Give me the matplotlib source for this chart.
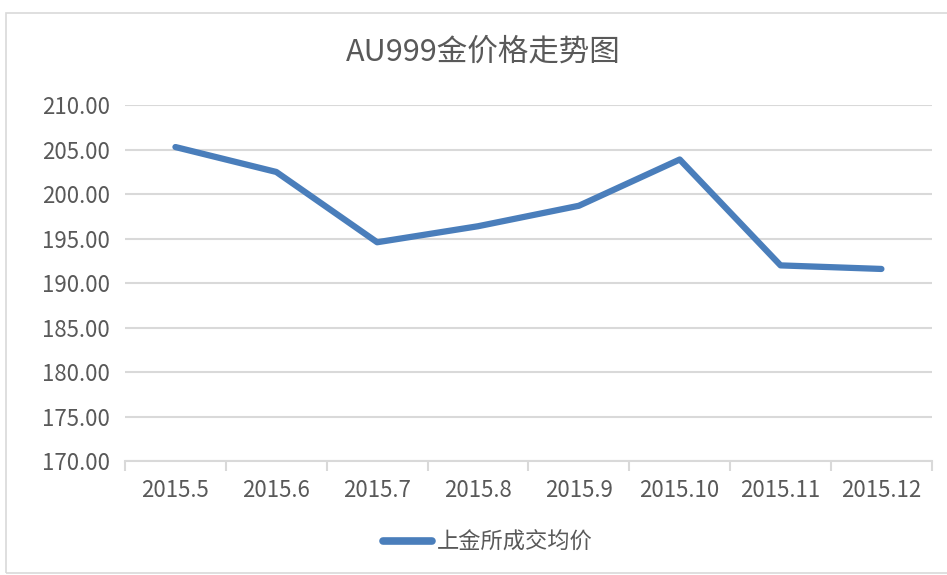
import matplotlib
matplotlib.use("Agg")
import matplotlib.pyplot as plt
from matplotlib.patches import Rectangle

plt.rcParams["font.family"] = ["Noto Sans CJK SC", "DejaVu Sans"]

months = ["2015.5", "2015.6", "2015.7", "2015.8", "2015.9", "2015.10", "2015.11", "2015.12"]
avg_price = [205.3, 202.5, 194.6, 196.4, 198.7, 203.9, 192.0, 191.6]
y_ticks = [170, 175, 180, 185, 190, 195, 200, 205, 210]

BLUE, GRID, TXT = "#4a7ebb", "#d9d9d9", "#595959"

fig = plt.figure(figsize=(9.47, 5.75), dpi=100)
fig.patches.append(Rectangle((0.006, 0.003), 1.2, 0.975, transform=fig.transFigure,
                             fill=False, ec=GRID, lw=1.2))
ax = fig.add_axes([0.132, 0.198, 0.852, 0.619])

x = range(len(months))
ax.plot(x, avg_price, color=BLUE, lw=4.5, solid_capstyle="round", solid_joinstyle="round",
        label="上金所成交均价", zorder=3)

ax.set_xlim(-0.5, len(months) - 0.5)
ax.set_ylim(170, 210)
ax.set_yticks(y_ticks)
ax.set_yticklabels([f"{v:.2f}" for v in y_ticks])
ax.set_xticks(x)
ax.set_xticklabels(months)
ax.set_xticks([i - 0.5 for i in range(len(months) + 1)], minor=True)
ax.grid(axis="y", color=GRID, lw=1.5)
ax.set_axisbelow(True)
for s in ["top", "right", "left"]:
    ax.spines[s].set_visible(False)
ax.spines["bottom"].set_color(GRID)
ax.spines["bottom"].set_linewidth(1.5)
ax.tick_params(axis="y", length=0, pad=11, labelsize=16, labelcolor=TXT)
ax.tick_params(axis="x", which="major", length=0, pad=13, labelsize=16, labelcolor=TXT)
ax.tick_params(axis="x", which="minor", length=7, width=1.5, color=GRID)

fig.text(0.51, 0.91, "AU999金价格走势图", ha="center", va="center", fontsize=22, color=TXT)
fig.legend(loc="center", bbox_to_anchor=(0.515, 0.057), frameon=False, fontsize=16,
           labelcolor=TXT, handlelength=2.2, handletextpad=0.2)
fig.legends[0].get_lines()[0].set_linewidth(5.5)

fig.savefig("out.png", dpi=100)
